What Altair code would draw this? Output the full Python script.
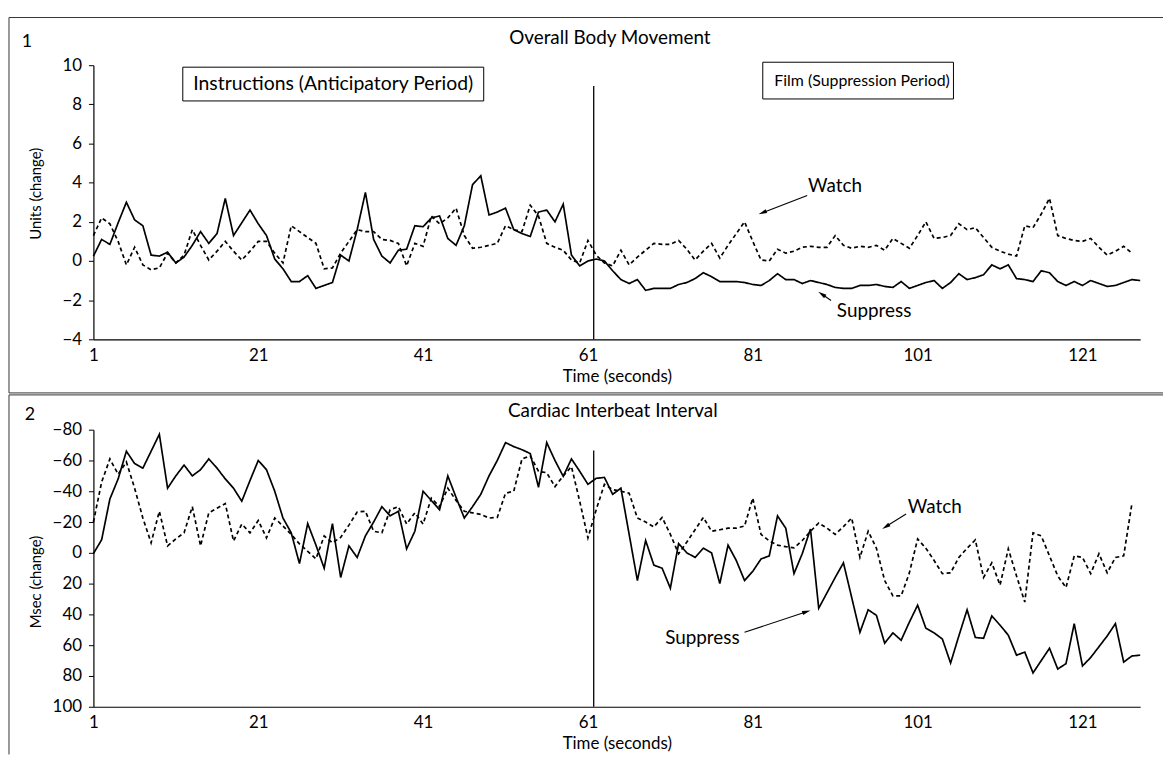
import math
import altair as alt
import pandas as pd

# ---------------- data ----------------
seconds_suppress = list(range(1, 129))
seconds_watch = list(range(1, 128))

body_suppress = [
    0.25, 1.1, 0.85, 1.95, 3.0, 2.1, 1.8, 0.3, 0.25, 0.45,
    -0.1, 0.2, 0.8, 1.5, 0.9, 1.4, 3.2, 1.3, 1.95, 2.6,
    1.9, 1.3, 0.1, -0.4, -1.05, -1.05, -0.75, -1.4, -1.25, -1.1,
    0.3, 0.0, 1.6, 3.5, 1.1, 0.25, -0.1, 0.55, 0.6, 1.8,
    1.75, 2.2, 2.3, 1.15, 0.8, 1.8, 3.9, 4.35, 2.35, 2.5,
    2.7, 1.6, 1.4, 1.25, 2.5, 2.6, 2.0, 2.9, 0.3, -0.25,
    0.0, 0.1, 0.0, -0.5, -0.95, -1.15, -0.95, -1.5, -1.4, -1.4,
    -1.4, -1.2, -1.1, -0.9, -0.6, -0.8, -1.05, -1.05, -1.05, -1.1,
    -1.2, -1.25, -1.0, -0.65, -0.95, -0.95, -1.15, -1.0, -1.1, -1.2,
    -1.35, -1.4, -1.4, -1.25, -1.25, -1.2, -1.3, -1.35, -1.05, -1.4,
    -1.25, -1.1, -1.0, -1.4, -1.1, -0.65, -0.95, -0.85, -0.7, -0.2,
    -0.4, -0.2, -0.9, -0.95, -1.05, -0.5, -0.6, -1.05, -1.25, -1.05,
    -1.25, -1.0, -1.15, -1.3, -1.25, -1.1, -0.95, -1.0,
]

body_watch = [
    1.3, 2.2, 1.9, 1.0, -0.2, 0.7, -0.2, -0.45, -0.35, 0.4,
    -0.1, 0.3, 1.6, 0.8, 0.05, 0.5, 1.0, 0.5, 0.05, 0.5,
    1.0, 1.0, 0.4, -0.1, 1.8, 1.5, 1.2, 0.9, -0.4, -0.35,
    0.4, 1.0, 1.6, 1.5, 1.5, 1.1, 1.05, 0.9, -0.25, 0.9,
    0.75, 2.3, 1.9, 2.2, 2.7, 1.3, 0.65, 0.7, 0.8, 0.9,
    1.8, 1.6, 1.5, 2.85, 2.3, 0.9, 0.7, 0.55, 0.05, -0.1,
    1.05, 0.3, -0.1, -0.25, 0.55, -0.2, 0.2, 0.55, 0.9, 0.85,
    0.85, 1.05, 0.6, 0.05, 0.5, 0.9, 0.15, 0.8, 1.4, 2.0,
    1.0, 0.05, 0.0, 0.6, 0.4, 0.5, 0.7, 0.75, 0.7, 0.7,
    1.3, 0.8, 0.65, 0.75, 0.7, 0.8, 0.55, 1.15, 0.9, 0.65,
    1.3, 2.0, 1.15, 1.2, 1.3, 1.9, 1.6, 1.7, 1.2, 0.7,
    0.5, 0.35, 0.25, 1.8, 1.7, 2.4, 3.2, 1.3, 1.15, 1.05,
    1.0, 1.15, 0.7, 0.3, 0.5, 0.75, 0.4,
]

ibi_suppress = [
    0.5, -8.5, -35, -48, -66, -58, -55, -66, -77, -42,
    -50, -57, -50, -54, -61, -55, -48, -42, -33.5, -47,
    -60, -54, -40, -22.6, -13, 7, -19, -5, 10, -19,
    16, -4.5, 3, -11, -20, -30, -24, -27, -2.6, -14,
    -40, -34, -28, -50, -36, -22.6, -30, -38, -50, -60,
    -71.6, -69, -67, -64.5, -42.6, -71.6, -60, -49.7, -61, -53,
    -44.5, -48.4, -49, -38, -42, -12, 18, -8, 8, 10,
    23, -6, 0, 3, -3, 0, 20, -5, 5, 18,
    12, 4, 2, -24, -16, 13.5, 0.6, -15.5, 36, 26,
    16, 6.5, 29, 51.6, 37, 40.6, 58.7, 52, 56.8, 45,
    34, 49, 52, 56, 71.6, 54, 37, 55, 55.5, 41,
    47, 53.5, 66.5, 64.5, 78, 70, 62, 75.5, 72, 46,
    73.5, 68, 61, 54, 46, 71, 67, 66.5,
]

ibi_watch = [
    -20, -46, -61, -51, -59, -42, -22.6, -6.5, -27, -4.5,
    -9, -13, -30, -4.5, -26, -29, -32, -7.7, -18.7, -13,
    -21, -9.7, -22.6, -17.4, -12, -5.8, -1, 3.9, -11, -6.5,
    -10, -18, -26.5, -27, -14, -13, -28, -30, -18.7, -26,
    -18.7, -35.5, -30, -42, -34, -27, -26, -25, -22.6, -23,
    -38.7, -40, -61, -63, -53, -52, -43, -50, -56, -33.5,
    -9.7, -28, -44.5, -41, -40, -38.7, -22.6, -20, -16.8, -23,
    -12, 0.6, -7, -15, -23, -14, -15, -16, -16, -17.4,
    -35.5, -12, -7.7, -5, -4, -3.2, -8, -14, -19.4, -16,
    -12, -17, -22.6, 3, -14, -3, 18, 28, 28, 13,
    -9, -3, 5, 13.5, 13, 3, -3, -8.4, 16, 6.5,
    21, -2.6, 15, 32, -13, -11, 2, 15, 22.6, 2,
    3, 13.5, 0.6, 13, 3, 2, -32,
]

x_ticks = [1, 21, 41, 61, 81, 101, 121]
body_ticks = [-4, -2, 0, 2, 4, 6, 8, 10]
ibi_ticks = [-80, -60, -40, -20, 0, 20, 40, 60, 80, 100]
film_start = [61.7]

# annotation anchors in data units: (label t, label v, tail t, tail v, head t, head v)
body_watch_note = (87.7, 3.81, 87.6, 3.35, 81.7, 2.39)
body_suppress_note = (91.2, -2.58, 90.5, -2.02, 88.95, -1.57)
ibi_watch_note = (99.8, -29.7, 99.6, -25.2, 96.7, -15.5)
ibi_suppress_note = (79.4, 55.5, 80.0, 51.6, 88.0, 37.4)

# ---------------- layout / style ----------------
FONT = "Lato"
W = 1054
H1, H2 = 276, 279
X_DOMAIN = [1, 128]
ARROW = "M0,-1L0.42,0.7L-0.42,0.7Z"
ONE = pd.DataFrame({"k": [0]})


def long_df(sup, wat):
    rows = [{"t": t, "v": v, "series": "Suppress"} for t, v in zip(seconds_suppress, sup)]
    rows += [{"t": t, "v": v, "series": "Watch"} for t, v in zip(seconds_watch, wat)]
    return pd.DataFrame(rows)


def arrow_frames(notes, sx, sy_screen):
    rules, heads, labels = [], [], []
    for name, align, (lt, lv, tt, tv, ht, hv) in notes:
        dx = (ht - tt) * sx
        dy = (hv - tv) * sy_screen
        ln = math.hypot(dx, dy)
        ux, uy = dx / ln, dy / ln
        ct = ht - 5 * ux / sx
        cv = hv - 5 * uy / sy_screen
        ang = math.degrees(math.atan2(dx, -dy)) % 360
        rules.append({"t": tt, "v": tv, "t2": ct, "v2": cv})
        heads.append({"t": ct, "v": cv, "ang": ang})
        labels.append({"t": lt, "v": lv, "txt": name, "align": align})
    return pd.DataFrame(rules), pd.DataFrame(heads), labels


def panel(sup, wat, yscale, yticks, ytitle, ytitle_y, height, number, number_pos,
          title, title_pos, frame_top, frame_bottom, draw_bottom, vline_top,
          notes, sy_screen, boxes):
    xscale = alt.Scale(domain=X_DOMAIN, nice=False, zero=False)
    xaxis = alt.Axis(values=x_ticks, title="Time (seconds)", ticks=False,
                     labelPadding=8, labelFlush=False, labelOverlap=False,
                     titleY=37, titleBaseline="middle", labelFontSize=17,
                     titleFontSize=17, grid=False)
    yaxis = alt.Axis(values=yticks, title=ytitle, tickSize=5, labelPadding=7,
                     labelOverlap=False, labelFlush=False, labelSeparation=0,
                     titleX=-58, titleY=ytitle_y, titleAngle=270,
                     titleBaseline="middle", titleAlign="center",
                     titleFontSize=15, labelFontSize=17, grid=False)
    XE = alt.X("t:Q", scale=xscale, axis=xaxis)
    YE = alt.Y("v:Q", scale=yscale, axis=yaxis)

    df = long_df(sup, wat)
    lines = alt.Chart(df).mark_line(color="black", strokeWidth=1.7).encode(
        x=XE, y=YE,
        strokeDash=alt.StrokeDash("series:N", legend=None,
                                  scale=alt.Scale(domain=["Suppress", "Watch"],
                                                  range=[[1, 0], [4, 3]])),
    )
    layers = [lines]

    vline = alt.Chart(pd.DataFrame({"t": film_start})).mark_rule(
        color="black", strokeWidth=1.3).encode(
        x=XE, y=alt.value(vline_top), y2=alt.value(height))
    layers.append(vline)

    rules, heads, labels = arrow_frames(notes, W / (X_DOMAIN[1] - X_DOMAIN[0]), sy_screen)
    layers.append(alt.Chart(rules).mark_rule(color="black", strokeWidth=1.1).encode(
        x=XE, y=YE, x2="t2:Q", y2="v2:Q"))
    layers.append(alt.Chart(heads).mark_point(shape=ARROW, filled=True, color="black",
                                              opacity=1, size=100, strokeWidth=0).encode(
        x=XE, y=YE, angle=alt.Angle("ang:Q", scale=None)))
    for lab in labels:
        layers.append(alt.Chart(pd.DataFrame([lab])).mark_text(
            font=FONT, fontSize=19, color="black", align=lab["align"],
            baseline="middle").encode(x=XE, y=YE, text="txt:N"))

    # frame
    layers.append(alt.Chart(ONE).mark_rule(color="#333", strokeWidth=1).encode(
        x=alt.value(-85), x2=alt.value(1077), y=alt.value(frame_top)))
    layers.append(alt.Chart(ONE).mark_rule(color="#333", strokeWidth=1).encode(
        x=alt.value(-85), y=alt.value(frame_top), y2=alt.value(frame_bottom)))
    if draw_bottom:
        layers.append(alt.Chart(ONE).mark_rule(color="#333", strokeWidth=1).encode(
            x=alt.value(-85), x2=alt.value(1077), y=alt.value(frame_bottom)))

    # number and title
    layers.append(alt.Chart(ONE).mark_text(text=number, font=FONT, fontSize=18,
                                           color="black").encode(
        x=alt.value(number_pos[0]), y=alt.value(number_pos[1])))
    layers.append(alt.Chart(ONE).mark_text(text=title, font=FONT, fontSize=19,
                                           color="black").encode(
        x=alt.value(title_pos[0]), y=alt.value(title_pos[1])))

    for (bx1, bx2, by1, by2, txt, fs, tx) in boxes:
        layers.append(alt.Chart(ONE).mark_rect(fill="white", stroke="black",
                                               strokeWidth=1).encode(
            x=alt.value(bx1), x2=alt.value(bx2), y=alt.value(by1), y2=alt.value(by2)))
        layers.append(alt.Chart(ONE).mark_text(text=txt, font=FONT, fontSize=fs,
                                               color="black").encode(
            x=alt.value(tx), y=alt.value((by1 + by2) / 2)))

    return alt.layer(*layers).properties(width=W, height=height)


top = panel(
    body_suppress, body_watch,
    alt.Scale(domain=[-4, 10], nice=False, zero=False), body_ticks,
    "Units (change)", 129, H1, "1", (-67, -23),
    "Overall Body Movement", (520, -27), -48, 330, True, 21,
    [("Watch", "left", body_watch_note), ("Suppress", "left", body_suppress_note)],
    -H1 / 14.0,
    [(90, 393, 2, 36, "Instructions (Anticipatory Period)", 19.5, 241.5),
     (674, 866, -3, 34, "Film (Suppression Period)", 16, 774)],
)

bottom = panel(
    ibi_suppress, ibi_watch,
    alt.Scale(domain=[-80, 100], nice=False, zero=False, reverse=True), ibi_ticks,
    "Msec (change)", 153, H2, "2", (-64, -15),
    "Cardiac Interbeat Interval", (523, -19), -35, 327, False, 21,
    [("Watch", "left", ibi_watch_note), ("Suppress", "right", ibi_suppress_note)],
    H2 / 180.0,
    [],
)

chart = alt.vconcat(top, bottom, spacing=0).properties(
    padding={"left": 0, "top": 6, "right": 0, "bottom": 0}
).configure_view(stroke=None).configure_axis(
    labelFont=FONT, titleFont=FONT, labelColor="black", titleColor="black",
    domainColor="black", tickColor="black", titleFontWeight="normal",
    domainWidth=1.2, labelOverlap=False,
)

chart.save("out.html", embed_options={"renderer": "svg", "actions": False})
